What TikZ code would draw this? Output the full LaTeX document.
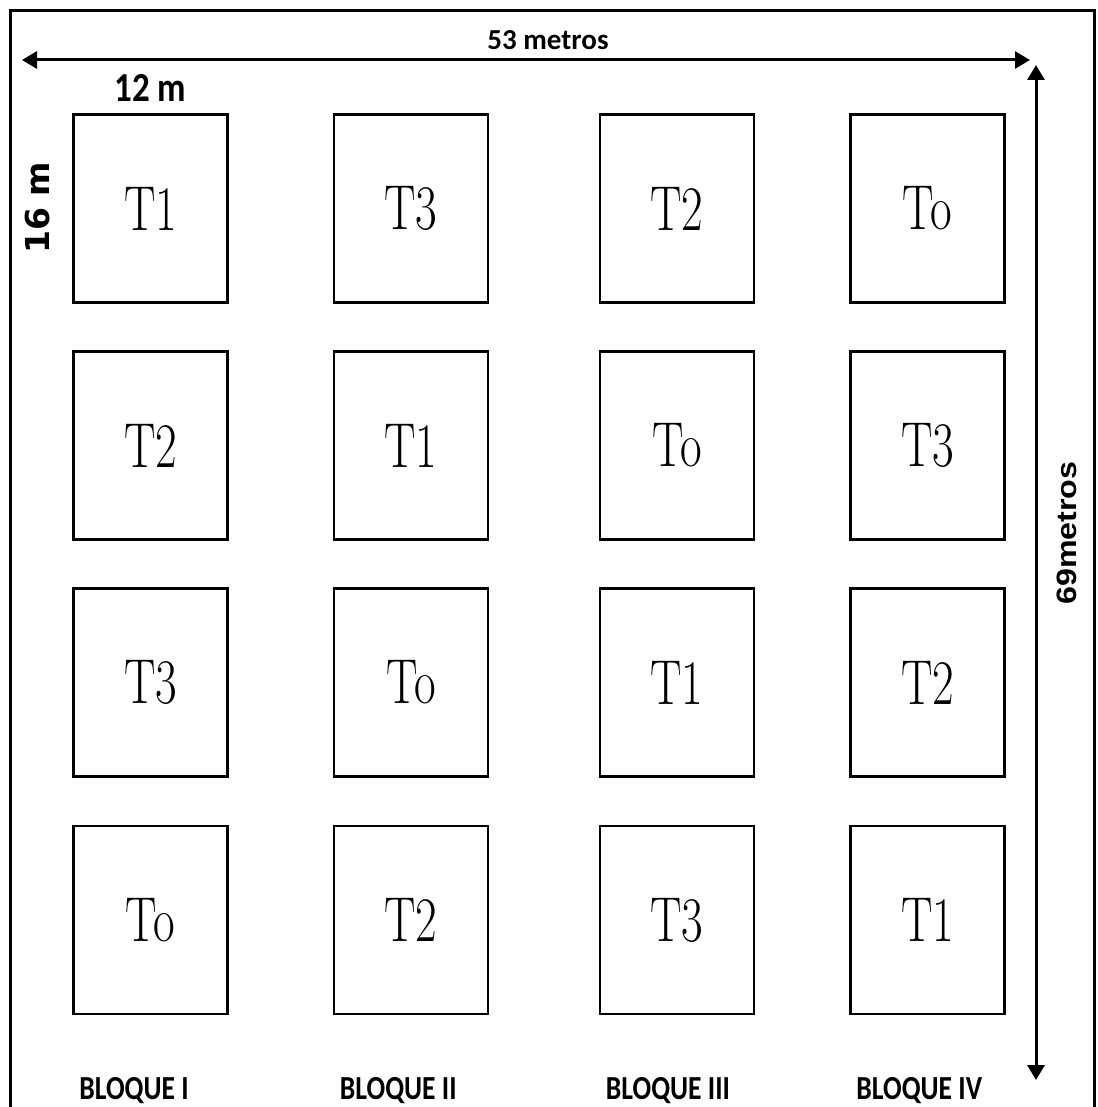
\documentclass[tikz,border=0pt]{standalone}
\usepackage{fontspec}
\setsansfont{Carlito}
\newfontfamily\heavyfont{DejaVu Sans}
\newfontfamily\arialfont{Liberation Sans}
\usepackage{graphicx}
\usetikzlibrary{arrows.meta, positioning}

\tikzset{
  parcela/.style={draw, line width=2.6pt, minimum width=154pt, minimum height=188pt, inner sep=0pt, font=\fontsize{47}{50}\selectfont},
  cota/.style={line width=3pt, {Triangle[length=15pt,width=17pt]}-{Triangle[length=15pt,width=17pt]}},
  bloque/.style={inner sep=0pt, font=\sffamily\bfseries\fontsize{27.6}{30}\selectfont},
  medida/.style={inner sep=0pt, font=\sffamily\bfseries\fontsize{29}{31}\selectfont},
}
\newcommand{\alto}[2][1.3]{\scalebox{1}[#1]{#2}}

\begin{document}
\begin{tikzpicture}[x=1pt, y=-1pt]
  \useasboundingbox (0,0) rectangle (1097,1107);
  % marco del terreno
  \draw[line width=3pt] (10,1112) -- (10,11) -- (1094,11) -- (1094,1112);

  % parcelas por fila
  \foreach \trts [count=\fila] in {{T1,T3,T2,To},{T2,T1,To,T3},{T3,To,T1,T2},{To,T2,T3,T1}} {
    \foreach \tr [count=\col] in \trts {
      \pgfmathsetmacro{\xc}{{150.5,411,677,927.5}[\col-1]}
      \pgfmathsetmacro{\yc}{{208.5,445.5,682.5,920}[\fila-1]}
      \node[parcela] (p\fila\col) at (\xc,\yc) {\alto[1.35]{\tr}};
    }
  }

  % cotas
  \coordinate (ancho-a) at (22,60);
  \coordinate (ancho-b) at (1030,60);
  \coordinate (largo-a) at (1036,65);
  \coordinate (largo-b) at (1036,1080);
  \draw[cota] (ancho-a) -- (ancho-b);
  \draw[cota] (largo-a) -- (largo-b);
  \node[medida] (ancho) at (548,40) {53 metros};
  \node[rotate=90, inner sep=0pt, font=\arialfont\bfseries\fontsize{28}{30}\selectfont] (largo) at (1067,533) {\scalebox{1.15}[1]{69metros}};

  % medidas de la parcela
  \node[medida, font=\sffamily\bfseries\fontsize{35}{37}\selectfont, above=11pt of p11] (parc-ancho) {\alto[1.18]{12 m}};
  \node[rotate=90, inner sep=0pt, font=\heavyfont\bfseries\fontsize{33}{35}\selectfont] (parc-alto) at (38,208) {16 m};

  % bloques
  \foreach \c/\nom in {1/I, 2/II, 3/III, 4/IV}
    \node[bloque, below right=62pt and 7pt of p4\c.south west] (bloque\c) {\alto[1.22]{BLOQUE \nom}};
\end{tikzpicture}
\end{document}
